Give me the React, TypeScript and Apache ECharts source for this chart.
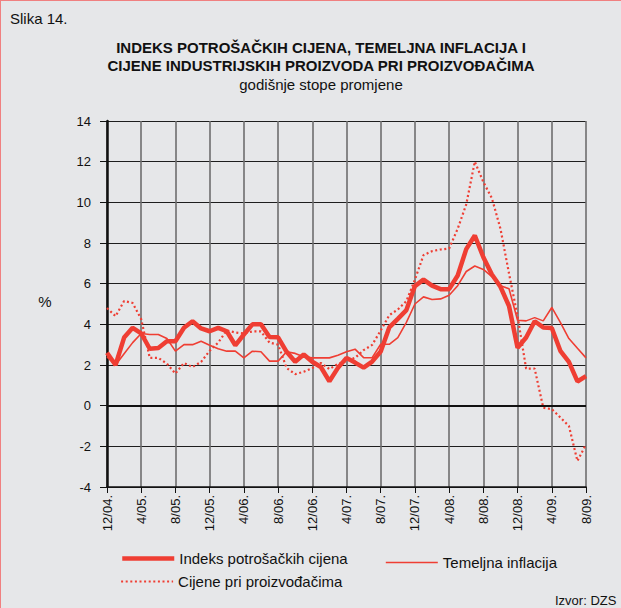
import { useEffect, useRef } from 'react';
import * as echarts from 'echarts';

const categories = [
  '12/04.', '1/05.', '2/05.', '3/05.', '4/05.', '5/05.', '6/05.', '7/05.', '8/05.', '9/05.', '10/05.', '11/05.',
  '12/05.', '1/06.', '2/06.', '3/06.', '4/06.', '5/06.', '6/06.', '7/06.', '8/06.', '9/06.', '10/06.', '11/06.',
  '12/06.', '1/07.', '2/07.', '3/07.', '4/07.', '5/07.', '6/07.', '7/07.', '8/07.', '9/07.', '10/07.', '11/07.',
  '12/07.', '1/08.', '2/08.', '3/08.', '4/08.', '5/08.', '6/08.', '7/08.', '8/08.', '9/08.', '10/08.', '11/08.',
  '12/08.', '1/09.', '2/09.', '3/09.', '4/09.', '5/09.', '6/09.', '7/09.', '8/09.'
];

const cpi = [
  2.6, 2.0, 3.35, 3.83, 3.55, 2.8, 2.84, 3.17, 3.17, 3.83, 4.15, 3.8,
  3.66, 3.83, 3.66, 2.97, 3.5, 4.0, 4.0, 3.38, 3.36, 2.65, 2.16, 2.52,
  2.16, 1.9, 1.2, 1.86, 2.35, 2.12, 1.87, 2.17, 2.66, 3.85, 4.27, 4.7,
  5.88, 6.2, 5.9, 5.73, 5.73, 6.4, 7.7, 8.37, 7.3, 6.45, 5.85, 4.9,
  2.85, 3.35, 4.15, 3.85, 3.82, 2.7, 2.15, 1.19, 1.45
];

const core = [
  2.4, 2.0, 2.55, 3.1, 3.55, 3.5, 3.5, 3.3, 2.68, 3.0, 3.0, 3.17,
  2.97, 2.8, 2.68, 2.68, 2.35, 2.68, 2.65, 2.19, 2.19, 2.65, 2.57, 2.4,
  2.35, 2.35, 2.35, 2.48, 2.65, 2.78, 2.36, 2.36, 3.02, 3.02, 3.35, 4.1,
  5.0, 5.35, 5.22, 5.25, 5.43, 5.9, 6.6, 6.87, 6.7, 6.35, 5.9, 5.75,
  4.2, 4.17, 4.33, 4.17, 4.83, 4.1, 3.3, 2.82, 2.35
];

const ppi = [
  4.8, 4.4, 5.15, 5.05, 4.25, 2.35, 2.35, 2.07, 1.58, 2.1, 1.9, 2.15,
  2.7, 3.1, 3.7, 3.6, 3.55, 3.65, 3.65, 3.1, 3.0, 1.85, 1.55, 1.67,
  1.85, 2.1, 1.8, 2.05, 2.2, 2.35, 2.73, 2.99, 3.7, 4.45, 4.73, 5.14,
  6.2, 7.4, 7.6, 7.68, 7.73, 8.7, 9.9, 12.0, 11.0, 10.2, 8.7, 6.5,
  4.4, 1.82, 1.82, -0.1, -0.17, -0.58, -1.0, -2.72, -1.9
];

const seriesNames = ['Indeks potrošačkih cijena', 'Temeljna inflacija', 'Cijene pri proizvođačima'];
const yMin = -4;
const yMax = 14;
const yStep = 2;

const RED = '#ef3e33';
const FONT = 'Liberation Sans, Arial, sans-serif';

const legendBase = {
  itemWidth: 52,
  itemHeight: 14,
  itemGap: 0,
  padding: 0,
  selectedMode: false,
  textStyle: { fontSize: 15, color: '#111', fontFamily: FONT },
  itemStyle: { color: 'rgba(0,0,0,0)', borderColor: 'rgba(0,0,0,0)', borderWidth: 0, opacity: 0 }
};

export default function App() {
  const ref = useRef<HTMLDivElement>(null);
  useEffect(() => {
    document.body.style.margin = '0';
    const chart = echarts.init(ref.current!, null, { renderer: 'svg' });
    chart.setOption({
      animation: false,
      backgroundColor: '#e6e7e9',
      textStyle: { fontFamily: FONT, color: '#111' },
      grid: { left: 107, right: 35, top: 121, bottom: 121, containLabel: false },
      xAxis: {
        type: 'category',
        data: categories,
        boundaryGap: false,
        axisLine: { show: true, onZero: false, lineStyle: { color: '#111', width: 1.5 } },
        axisTick: { show: true, interval: 3, length: 6, lineStyle: { color: '#111', width: 1 } },
        axisLabel: { interval: 3, rotate: 90, margin: 8, fontSize: 13, color: '#111', fontFamily: FONT },
        splitLine: { show: true, interval: 3, lineStyle: { color: '#6e6e6e', width: 1.6 } }
      },
      yAxis: {
        type: 'value',
        min: yMin,
        max: yMax,
        interval: yStep,
        axisLine: { show: true, onZero: false, lineStyle: { color: '#111', width: 2.5 } },
        axisTick: { show: true, length: 7, lineStyle: { color: '#111', width: 1 } },
        axisLabel: { margin: 16, fontSize: 13, color: '#111', fontFamily: FONT },
        splitLine: { show: true, lineStyle: { color: '#1e1e1e', width: 1.2 } }
      },
      legend: [
        { ...legendBase, data: [seriesNames[0]], left: 120, top: 551, lineStyle: { width: 4.5 } },
        { ...legendBase, data: [seriesNames[1]], left: 385, top: 555, lineStyle: { width: 1.6 } },
        { ...legendBase, data: [seriesNames[2]], left: 120, top: 574, lineStyle: { width: 2.2 } }
      ],
      graphic: [
        { type: 'line', shape: { x1: 0.5, y1: 0, x2: 0.5, y2: 608 }, style: { stroke: '#f08080', lineWidth: 1 } },
        { type: 'line', shape: { x1: 0, y1: 0.5, x2: 621, y2: 0.5 }, style: { stroke: '#f08080', lineWidth: 1 } },
        { type: 'text', x: 10, y: 18, style: { text: 'Slika 14.', font: `15px ${FONT}`, fill: '#111', textVerticalAlign: 'middle' } },
        { type: 'text', x: 321, y: 47, style: { text: 'INDEKS POTROŠAČKIH CIJENA, TEMELJNA INFLACIJA I', font: `bold 15px ${FONT}`, fill: '#111', textAlign: 'center', textVerticalAlign: 'middle' } },
        { type: 'text', x: 321, y: 65, style: { text: 'CIJENE INDUSTRIJSKIH PROIZVODA PRI PROIZVOĐAČIMA', font: `bold 15px ${FONT}`, fill: '#111', textAlign: 'center', textVerticalAlign: 'middle' } },
        { type: 'text', x: 321, y: 84, style: { text: 'godišnje stope promjene', font: `15px ${FONT}`, fill: '#111', textAlign: 'center', textVerticalAlign: 'middle' } },
        { type: 'text', x: 45, y: 301, style: { text: '%', font: `15px ${FONT}`, fill: '#111', textAlign: 'center', textVerticalAlign: 'middle' } },
        { type: 'text', x: 555, y: 600, style: { text: 'Izvor: DZS', font: `13px ${FONT}`, fill: '#111', textVerticalAlign: 'middle' } }
      ],
      series: [
        {
          name: seriesNames[2], type: 'line', data: ppi, symbol: 'none', z: 3,
          lineStyle: { color: RED, width: 2.2, type: [2, 2.6] }, itemStyle: { color: RED },
          markLine: {
            silent: true, symbol: 'none', label: { show: false },
            lineStyle: { color: '#111', width: 2.2, type: 'solid' },
            data: [{ yAxis: 0 }]
          }
        },
        {
          name: seriesNames[1], type: 'line', data: core, symbol: 'none', z: 4,
          lineStyle: { color: RED, width: 1.6 }, itemStyle: { color: RED }
        },
        {
          name: seriesNames[0], type: 'line', data: cpi, symbol: 'none', z: 5,
          lineStyle: { color: RED, width: 4.5 }, itemStyle: { color: RED }
        }
      ]
    });
    return () => chart.dispose();
  }, []);
  return <div ref={ref} style={{ width: 621, height: 608 }} />;
}
